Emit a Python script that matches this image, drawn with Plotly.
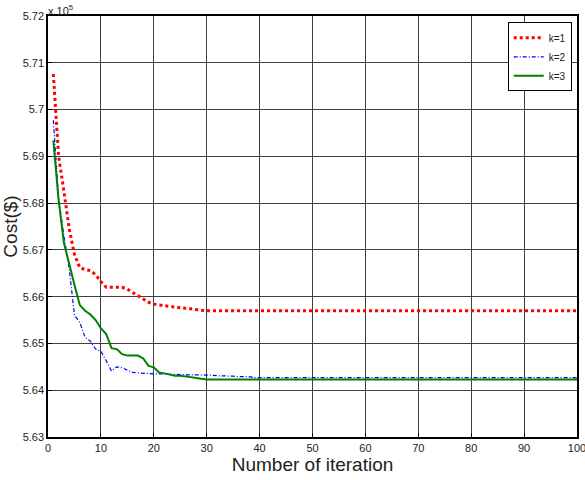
import plotly.graph_objects as go

iterations = list(range(1, 101))

k1_head = [5.7076, 5.6900, 5.6825, 5.6745, 5.6690, 5.6662, 5.6658, 5.6656, 5.6647, 5.6632,
           5.6620, 5.6620, 5.6621, 5.6620, 5.6616, 5.6609, 5.6601, 5.6594, 5.6588, 5.6584,
           5.6582, 5.6581, 5.6579, 5.6578, 5.6576, 5.6575, 5.6574, 5.6572, 5.6571, 5.6570]
k1_tail = [5.6570] * 70

k2_head = [5.6977, 5.6810, 5.6730, 5.6660, 5.6560, 5.6545, 5.6513, 5.6505, 5.6488, 5.6483,
           5.6463, 5.6441, 5.6450, 5.6448, 5.6443, 5.6438, 5.6437, 5.6436, 5.6436, 5.6435,
           5.6435, 5.6434, 5.6434, 5.6434, 5.6433, 5.6433, 5.6433, 5.6433, 5.6433, 5.6432,
           5.6432, 5.6431, 5.6431, 5.6430, 5.6430, 5.6429, 5.6429, 5.6429]
k2_tail = [5.6427] * 62

k3_head = [5.6934, 5.6806, 5.6715, 5.6668, 5.6625, 5.6582, 5.6570, 5.6562, 5.6550, 5.6532,
           5.6520, 5.6490, 5.6488, 5.6477, 5.6474, 5.6474, 5.6474, 5.6468, 5.6452, 5.6449,
           5.6438, 5.6436, 5.6433, 5.6431, 5.6431, 5.6430, 5.6428, 5.6426, 5.6424, 5.6423]
k3_tail = [5.6423] * 70

k1 = k1_head + k1_tail
k2 = k2_head + k2_tail
k3 = k3_head + k3_tail

x_ticks = [0, 10, 20, 30, 40, 50, 60, 70, 80, 90, 100]
x_labels = [str(v) for v in x_ticks]
y_ticks = [5.63, 5.64, 5.65, 5.66, 5.67, 5.68, 5.69, 5.70, 5.71, 5.72]
y_labels = ["5.63", "5.64", "5.65", "5.66", "5.67", "5.68", "5.69", "5.7", "5.71", "5.72"]

fig = go.Figure()
fig.add_trace(go.Scatter(x=iterations, y=k1, mode="lines", name="k=1",
                         line=dict(color="#ff0000", width=3, dash="dot")))
fig.add_trace(go.Scatter(x=iterations, y=k2, mode="lines", name="k=2",
                         line=dict(color="#0000ff", width=1.2, dash="4px,2px,1px,2px")))
fig.add_trace(go.Scatter(x=iterations, y=k3, mode="lines", name="k=3",
                         line=dict(color="#008000", width=2)))

axis_common = dict(showline=True, linecolor="black", linewidth=1.5, mirror=True,
                   showgrid=True, gridcolor="#404040", gridwidth=1,
                   ticks="inside", ticklen=4, tickcolor="black",
                   tickfont=dict(family="Liberation Sans, Arial", size=11, color="#222"),
                   zeroline=False, ticklabeloverflow="allow", automargin=False)

fig.update_layout(
    width=585, height=480,
    margin=dict(l=48, r=8, t=16, b=43),
    paper_bgcolor="white", plot_bgcolor="white",
    font=dict(family="Liberation Sans, Arial", color="#222"),
    xaxis=dict(range=[-0.01, 100.01], tickvals=x_ticks, ticktext=x_labels,
               title=dict(text="Number of iteration", font=dict(size=19), standoff=3),
               **axis_common),
    yaxis=dict(range=[5.63, 5.72], tickvals=y_ticks, ticktext=y_labels,
               title=dict(text="Cost($)", font=dict(size=19), standoff=4),
               **axis_common),
    legend=dict(x=0.99, y=0.985, xanchor="right", yanchor="top",
                bgcolor="white", bordercolor="black", borderwidth=1,
                font=dict(size=10, color="#222"), tracegroupgap=0,
                itemwidth=30),
    showlegend=True,
    annotations=[dict(text="x 10<sup>5</sup>", xref="paper", yref="paper",
                      x=0, y=1, xanchor="left", yanchor="bottom", showarrow=False,
                      font=dict(size=11, color="#222"), yshift=-3, xshift=-2)],
)

fig.write_html("out.html")
